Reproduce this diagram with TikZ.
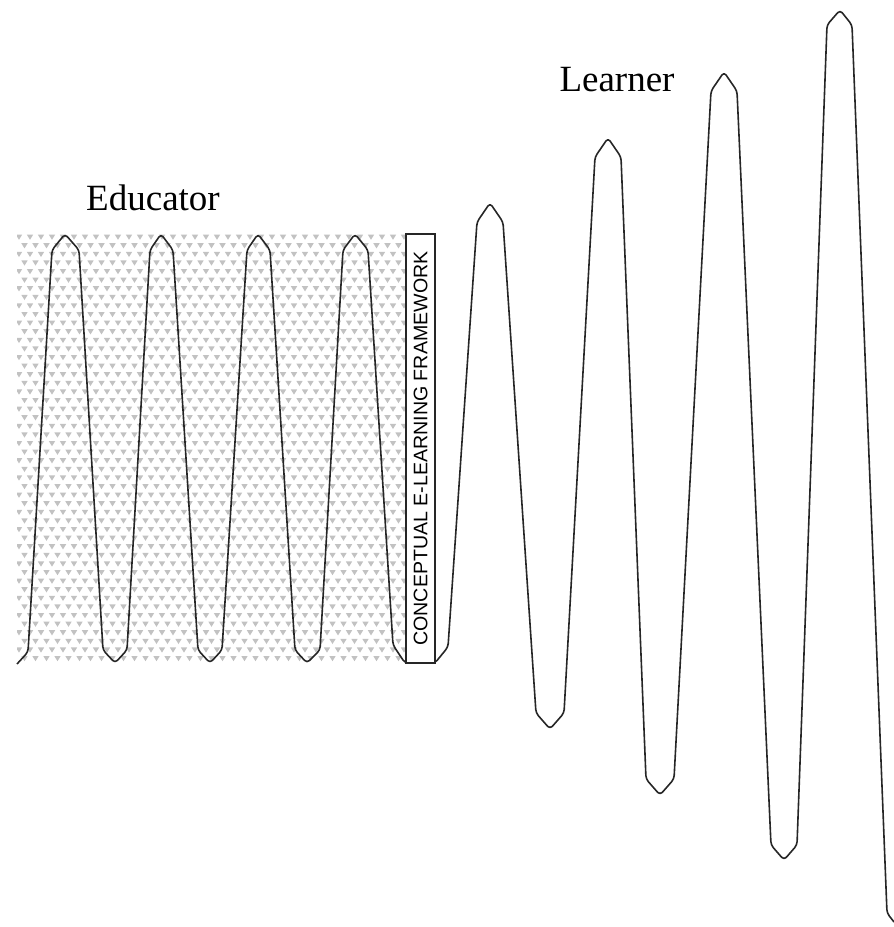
\documentclass[tikz,border=0pt]{standalone}
\usepackage{fontspec}
\setmainfont{Liberation Serif}
\newfontfamily\boxfont{Liberation Sans}
\begin{document}
\begin{tikzpicture}[x=1pt,y=-1pt,
  wave/.style={draw=black!85, line width=1.6pt, line join=round, rounded corners=3.5pt},
  framebox/.style={draw=black!85, line width=1.6pt, fill=white, inner sep=0pt, rotate=90,
     minimum width=429pt, minimum height=29pt, font=\boxfont\fontsize{19.6}{20}\selectfont},
  lbl/.style={font=\fontsize{37}{40}\selectfont, inner sep=0pt},
  dot/.style={fill=black!24}]
\useasboundingbox (0,0) rectangle (894,927);
% background pattern
\begin{scope}
\clip (17,233) rectangle (405,663);
\foreach \r in {0,...,50}{
  \foreach \c in {0,...,36}{
    \pgfmathsetmacro{\px}{19 + 11*\c + 5.5*mod(\r,2)}
    \pgfmathsetmacro{\py}{237 + 8.6*\r}
    \fill[dot] (\px-3.2,\py-2.4) -- (\px+3.2,\py-2.4) -- (\px,\py+2.8) -- cycle;
  }
}
\end{scope}
% wave
\draw[wave] (17,664) -- (28,652) -- (52,250) -- (65,234) -- (79,250) -- (103,650) -- (115,663)
 -- (127,650) -- (150,250) -- (161,234) -- (173,250) -- (198,650) -- (210,663)
 -- (222,650) -- (247,250) -- (258,234) -- (270,250) -- (295,650) -- (307,663)
 -- (320,650) -- (343,250) -- (355,234) -- (368,250) -- (393,645) -- (405,663)
 -- (435,663) -- (448,647) -- (477,222) -- (490,203) -- (503,222) -- (536,713) -- (550,729)
 -- (564,713) -- (595,157) -- (608,138) -- (621,157) -- (646,779) -- (660,795)
 -- (674,779) -- (711,91) -- (724,72) -- (737,91) -- (771,845) -- (784,860)
 -- (797,845) -- (827,25) -- (840,10) -- (852,25) -- (887,913) -- (894,922);
% box
\node[framebox] (frame) at (420.5,448.5) {CONCEPTUAL E-LEARNING FRAMEWORK};
% labels
\node[lbl] (educator) at (153,198) {Educator};
\node[lbl] (learner) at (617,80) {Learner};
\end{tikzpicture}
\end{document}
